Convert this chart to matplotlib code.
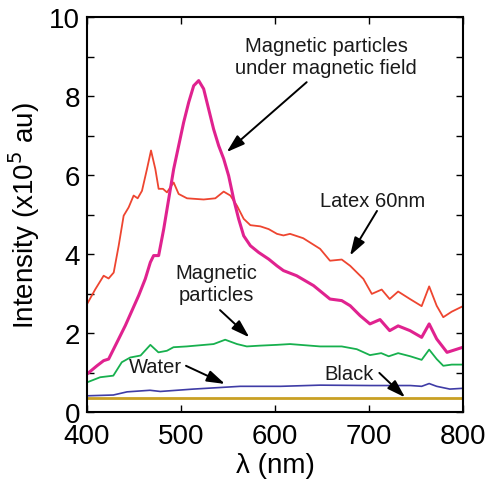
import matplotlib
matplotlib.use("Agg")
import matplotlib.pyplot as plt

plt.rcParams['font.family'] = ['Liberation Sans', 'DejaVu Sans']

# ---- data ----
latex_x = [400, 408.9, 417.7, 423, 428.4, 433.7, 439, 444.3, 449.6, 453.9, 458.5, 463.8, 468.1, 472.7,
           476.2, 480.8, 485.1, 488.7, 492.2, 497.5, 506.4, 524.1, 536.5, 545.4, 552.5, 559.6, 566.7,
           573.8, 584.4, 593.3, 602.1, 609, 616, 630, 648, 658.5, 671, 680, 694, 703, 713.5, 722, 731,
           743.6, 756, 764, 772, 779, 788, 800]
latex_y = [2.73, 3.11, 3.45, 3.38, 3.53, 4.21, 4.97, 5.18, 5.48, 5.41, 5.60, 6.15, 6.62, 6.15,
           5.65, 5.65, 5.56, 5.69, 5.81, 5.52, 5.41, 5.38, 5.41, 5.58, 5.48, 5.22, 4.89,
           4.73, 4.70, 4.63, 4.51, 4.47, 4.51, 4.40, 4.13, 3.83, 3.86, 3.70, 3.37, 2.99, 3.10, 2.86, 3.05,
           2.86, 2.68, 3.18, 2.69, 2.40, 2.54, 2.68]

magf_x = [400, 410.6, 417.7, 423, 433.7, 440.8, 447.9, 455, 462, 467.4, 470.9, 476.2, 481.6, 486.9,
          492.2, 497.5, 502.8, 508.2, 513.5, 518.8, 524.1, 529.4, 534.7, 540.1, 545.4, 550.7, 556,
          561.3, 566.7, 573.8, 582.6, 593.3, 602.1, 609, 623, 641, 658.5, 671, 680, 690.5, 701, 711.7,
          722, 731, 743.6, 756, 764, 772, 783, 800]
magf_y = [0.96, 1.17, 1.30, 1.34, 1.85, 2.19, 2.57, 2.95, 3.37, 3.79, 3.96, 3.96, 4.63, 5.39,
          6.15, 6.74, 7.33, 7.84, 8.26, 8.39, 8.18, 7.67, 7.16, 6.74, 6.41, 5.98, 5.39,
          4.89, 4.46, 4.21, 4.04, 3.87, 3.70, 3.58, 3.45, 3.20, 2.86, 2.82, 2.69, 2.44, 2.23, 2.34,
          2.06, 2.18, 2.06, 1.89, 2.23, 1.85, 1.51, 1.64]

mag_x = [400, 414, 428, 437, 446, 457, 467.4, 476, 485, 492, 506, 534.7, 547, 559.6, 570, 584, 602,
         616, 648, 671, 687, 701, 713, 721, 731, 744, 756, 764, 772, 779, 788, 800]
mag_y = [0.75, 0.88, 0.92, 1.26, 1.38, 1.43, 1.70, 1.51, 1.55, 1.64, 1.66, 1.72, 1.83, 1.72, 1.66,
         1.68, 1.70, 1.72, 1.66, 1.66, 1.59, 1.44, 1.49, 1.41, 1.49, 1.41, 1.32, 1.58, 1.34,
         1.17, 1.20, 1.20]

water_x = [400, 428, 442.6, 467, 478, 513, 563, 606, 648, 701, 744, 756, 764, 772, 786, 800]
water_y = [0.41, 0.43, 0.51, 0.55, 0.52, 0.58, 0.65, 0.65, 0.68, 0.67, 0.67, 0.65, 0.72, 0.65, 0.58, 0.60]

black_x = [400, 800]
black_y = [0.35, 0.35]

x_ticks = [400, 500, 600, 700, 800]
y_ticks = list(range(0, 11))
y_ticklabels = ['0', '', '2', '', '4', '', '6', '', '8', '', '10']

# annotation texts, text anchor and arrow tail/head (data coords)
ann_text = ['Magnetic particles\nunder magnetic field', 'Latex 60nm', 'Magnetic\nparticles', 'Water', 'Black']
ann_pos = [(654.3, 9.01), (704.3, 5.35), (537.2, 3.26), (472.9, 1.157), (678.4, 0.987)]
ann_tail = [(633.7, 8.35), (708.5, 5.09), (541.5, 2.58), (505.3, 1.17), (711, 0.99)]
ann_head = [(548.6, 6.58), (679.8, 3.96), (572.7, 1.89), (546.8, 0.71), (738.3, 0.37)]

# ---- figure ----
fig = plt.figure(figsize=(4.94, 4.81), dpi=100)
ax = fig.add_axes([87/494, 1-413/481, (463-87)/494, (413-18)/481])

ax.plot(black_x, black_y, color='#C9A024', lw=2.0)
ax.plot(water_x, water_y, color='#3F3CA6', lw=1.2)
ax.plot(mag_x, mag_y, color='#17B04E', lw=1.3)
ax.plot(latex_x, latex_y, color='#EE4530', lw=1.3)
ax.plot(magf_x, magf_y, color='#E0228F', lw=2.2)

ax.set_xlim(400, 800)
ax.set_ylim(0, 10)
ax.set_xticks(x_ticks)
ax.set_yticks(y_ticks)
ax.set_yticklabels(y_ticklabels)
ax.tick_params(direction='in', length=5, width=1, top=True, right=True,
               labelsize=20, colors='black')
ax.tick_params(axis='x', pad=8)
ax.tick_params(axis='y', pad=5)
for s in ax.spines.values():
    s.set_linewidth(1.5)

ax.set_xlabel('λ (nm)', fontsize=20, labelpad=2)
ax.set_ylabel('Intensity (x10$^5$ au)', fontsize=20, labelpad=5)

for t, p, tl, hd in zip(ann_text, ann_pos, ann_tail, ann_head):
    ax.text(p[0], p[1], t, fontsize=14.5, ha='center', va='center', color='#1a1a1a',
            linespacing=1.2)
    ax.annotate('', xy=hd, xytext=tl,
                arrowprops=dict(arrowstyle='-|>,head_length=1.1,head_width=0.35',
                                color='black', lw=1.4, mutation_scale=10,
                                shrinkA=0, shrinkB=0))

fig.savefig('out.png', dpi=100)
